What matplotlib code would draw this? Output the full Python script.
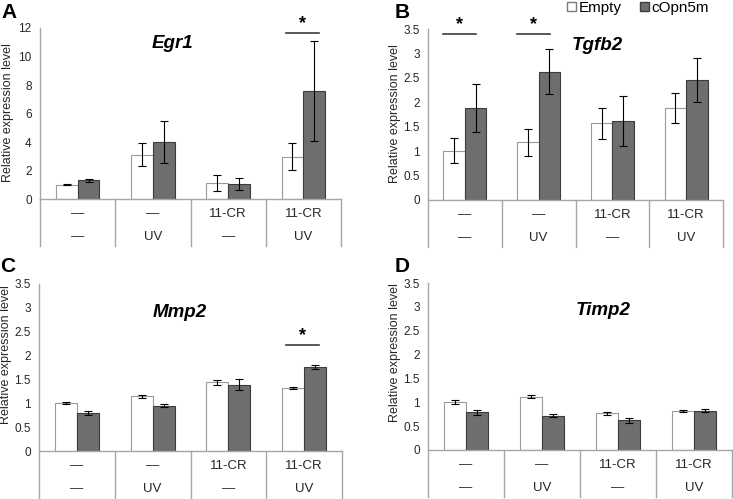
import matplotlib
matplotlib.use("Agg")
import matplotlib.pyplot as plt
from matplotlib.patches import Patch

plt.rcParams['font.family'] = ['Liberation Sans', 'DejaVu Sans']

W, H = 733, 499

genes = ["Egr1", "Tgfb2", "Mmp2", "Timp2"]
letters = ["A", "B", "C", "D"]
row1 = ["—", "—", "11-CR", "11-CR"]
row2 = ["—", "UV", "—", "UV"]
series = ["Empty", "cOpn5m"]

egr1_empty = [1.0, 3.12, 1.12, 2.97]
egr1_empty_err = [0.02, 0.78, 0.53, 0.95]
egr1_copn = [1.31, 4.02, 1.08, 7.58]
egr1_copn_err = [0.12, 1.47, 0.42, 3.48]

tgfb2_empty = [1.01, 1.18, 1.57, 1.88]
tgfb2_empty_err = [0.25, 0.27, 0.32, 0.31]
tgfb2_copn = [1.88, 2.63, 1.62, 2.45]
tgfb2_copn_err = [0.49, 0.47, 0.51, 0.45]

mmp2_empty = [1.0, 1.15, 1.44, 1.32]
mmp2_empty_err = [0.02, 0.03, 0.05, 0.03]
mmp2_copn = [0.79, 0.95, 1.39, 1.76]
mmp2_copn_err = [0.04, 0.03, 0.11, 0.04]

timp2_empty = [1.0, 1.12, 0.77, 0.82]
timp2_empty_err = [0.04, 0.04, 0.03, 0.02]
timp2_copn = [0.79, 0.72, 0.62, 0.82]
timp2_copn_err = [0.05, 0.03, 0.05, 0.03]

# significance bars: (category, height, left offset, right offset)
sig_egr1 = [(3, 11.65, -0.23, 0.21)]
sig_tgfb2 = [(0, 3.4, -0.30, 0.15), (1, 3.4, -0.29, 0.16)]
sig_mmp2 = [(3, 2.23, -0.24, 0.20)]
sig_timp2 = []

# panel boxes in pixels: left, right, top of y-range, zero line
boxes = [(40, 341, 28, 199), (428, 723, 29, 200), (39, 342, 284, 451), (428, 732, 283, 450)]
ymax = [12, 3.5, 3.5, 3.5]
yticks = [[0, 2, 4, 6, 8, 10, 12], [0, 0.5, 1, 1.5, 2, 2.5, 3, 3.5],
          [0, 0.5, 1, 1.5, 2, 2.5, 3, 3.5], [0, 0.5, 1, 1.5, 2, 2.5, 3, 3.5]]
title_pos = [(0.44, 0.91), (0.573, 0.905), (0.465, 0.832), (0.576, 0.838)]
letter_pos = [(9, 12), (402, 13), (8, 267), (402, 266)]
ylabel_pos = [(8, 113), (395, 114), (6, 355), (395, 353)]

data = [
    (egr1_empty, egr1_empty_err, egr1_copn, egr1_copn_err, sig_egr1),
    (tgfb2_empty, tgfb2_empty_err, tgfb2_copn, tgfb2_copn_err, sig_tgfb2),
    (mmp2_empty, mmp2_empty_err, mmp2_copn, mmp2_copn_err, sig_mmp2),
    (timp2_empty, timp2_empty_err, timp2_copn, timp2_copn_err, sig_timp2),
]

GRID = "#a6a6a6"
TXT = "#262626"
DARK = "#6e6e6e"

fig = plt.figure(figsize=(W / 100, H / 100), dpi=100)

for i, (e, ee, c, ce, sig) in enumerate(data):
    l, r, t, z = boxes[i]
    hpx = z - t
    ax = fig.add_axes([l / W, 1 - z / H, (r - l) / W, hpx / H])
    x = list(range(4))
    bw = 0.29
    ax.bar([xi - bw / 2 for xi in x], e, bw, yerr=ee, color="white", edgecolor="#9a9a9a",
           lw=0.8, error_kw=dict(ecolor="black", elinewidth=0.8, capsize=3, capthick=0.8))
    ax.bar([xi + bw / 2 for xi in x], c, bw, yerr=ce, color=DARK, edgecolor="#3c3c3c",
           lw=0.8, error_kw=dict(ecolor="black", elinewidth=0.8, capsize=3, capthick=0.8))
    ax.set_xlim(-0.5, 3.5)
    ax.set_ylim(0, ymax[i])
    ax.set_yticks(yticks[i])
    ax.set_yticklabels([f"{v:g}" for v in yticks[i]])
    ax.tick_params(axis="y", length=0, pad=6, labelsize=8.5, labelcolor=TXT)
    ax.set_xticks([])
    for s in ax.spines.values():
        s.set_visible(False)

    # table under the axis
    depth = 47 / hpx
    ax.plot([0, 1], [0, 0], transform=ax.transAxes, color=GRID, lw=1, clip_on=False)
    ax.plot([0, 0], [-depth, 1], transform=ax.transAxes, color=GRID, lw=1, clip_on=False)
    for k in range(1, 5):
        ax.plot([k / 4, k / 4], [-depth, 0], transform=ax.transAxes, color=GRID, lw=1, clip_on=False)
    for k in range(4):
        ax.text((k + 0.5) / 4, -15 / hpx, row1[k], transform=ax.transAxes, ha="center",
                va="center", fontsize=9.5, color=TXT)
        ax.text((k + 0.5) / 4, -38 / hpx, row2[k], transform=ax.transAxes, ha="center",
                va="center", fontsize=9.5, color=TXT)

    for cat, yv, d0, d1 in sig:
        ax.plot([cat + d0, cat + d1], [yv, yv], color="#3c3c3c", lw=1.2, clip_on=False)
        ax.text(cat + (d0 + d1) / 2, yv + ymax[i] * 0.003, "*", ha="center", va="bottom",
                fontsize=13, fontweight="bold", color="black")

    ax.text(title_pos[i][0], title_pos[i][1], genes[i], transform=ax.transAxes, ha="center",
            va="center", fontsize=13.5, fontweight="bold", fontstyle="italic")

    fig.text(letter_pos[i][0] / W, 1 - letter_pos[i][1] / H, letters[i], ha="center",
             va="center", fontsize=15, fontweight="bold")
    fig.text(ylabel_pos[i][0] / W, 1 - ylabel_pos[i][1] / H, "Relative expression level",
             rotation=90, ha="center", va="center", fontsize=9, color=TXT)

handles = [Patch(facecolor="white", edgecolor="#7a7a7a", label=series[0]),
           Patch(facecolor=DARK, edgecolor="#3c3c3c", label=series[1])]
fig.legend(handles=handles, loc="center", bbox_to_anchor=(638 / W, 1 - 8 / H), ncol=2,
           frameon=False, fontsize=11, handlelength=0.6, handleheight=0.6,
           handletextpad=0.15, columnspacing=1.2, borderpad=0)

fig.savefig("out.png", dpi=100)
